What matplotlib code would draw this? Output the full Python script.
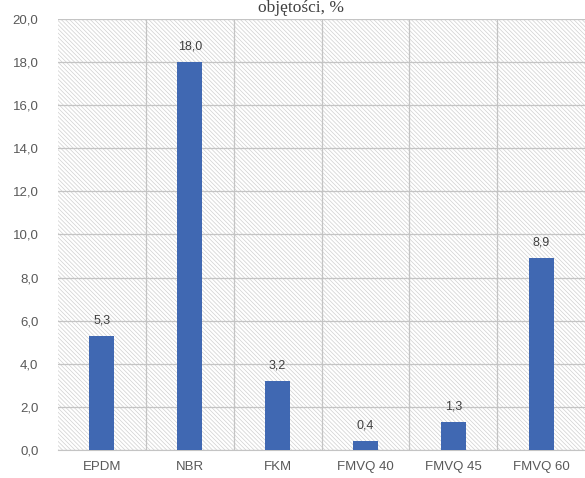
import matplotlib.pyplot as plt
from matplotlib.patches import Rectangle
from matplotlib.ticker import FuncFormatter, MultipleLocator

categories = ["EPDM", "NBR", "FKM", "FMVQ 40", "FMVQ 45", "FMVQ 60"]
values = [5.3, 18.0, 3.2, 0.4, 1.3, 8.9]

plt.rcParams["font.family"] = ["Liberation Sans", "DejaVu Sans"]
plt.rcParams["hatch.linewidth"] = 0.5
plt.rcParams["hatch.color"] = "#d0d0d0"


def comma(v, pos=None):
    return f"{v:.1f}".replace(".", ",")


fig = plt.figure(figsize=(5.85, 4.78), dpi=100)
ax = fig.add_axes([58 / 585, 1 - 450 / 478, 527 / 585, 431 / 478])

# hatched plot area
ax.add_patch(Rectangle((0, 0), 1, 1, transform=ax.transAxes, facecolor="white",
                       edgecolor="#d0d0d0", hatch="\\" * 8, linewidth=0, zorder=0))

x = range(len(categories))
ax.bar(x, values, width=0.285, color="#4068b2", zorder=3)
for xi, v in zip(x, values):
    ax.annotate(comma(v), (xi, v), xytext=(0, 7), textcoords="offset points",
                ha="center", va="bottom", fontsize=9, color="#404040", zorder=4)

ax.set_xlim(-0.5, len(categories) - 0.5)
ax.set_ylim(0, 20)
ax.yaxis.set_major_locator(MultipleLocator(2))
ax.yaxis.set_major_formatter(FuncFormatter(comma))
ax.set_xticks(list(x))
ax.set_xticklabels(categories)
ax.set_xticks([i + 0.5 for i in range(len(categories) - 1)], minor=True)

ax.grid(axis="y", which="major", color="#c4c4c4", linewidth=0.9, zorder=1)
ax.grid(axis="x", which="minor", color="#c4c4c4", linewidth=0.9, zorder=1)
ax.set_axisbelow(True)
ax.tick_params(axis="both", which="both", length=0, colors="#595959", labelsize=9.5)
ax.tick_params(axis="x", pad=8)
ax.tick_params(axis="y", pad=14)
for side in ["top", "right", "left"]:
    ax.spines[side].set_visible(False)
ax.spines["bottom"].set_color("#c4c4c4")

fig.text(0.515, 1 - 12 / 478, "objętości, %", ha="center", va="baseline",
         fontsize=12.5, family=["Liberation Serif", "DejaVu Serif"], color="#404040")

fig.savefig("out.png", dpi=100)
